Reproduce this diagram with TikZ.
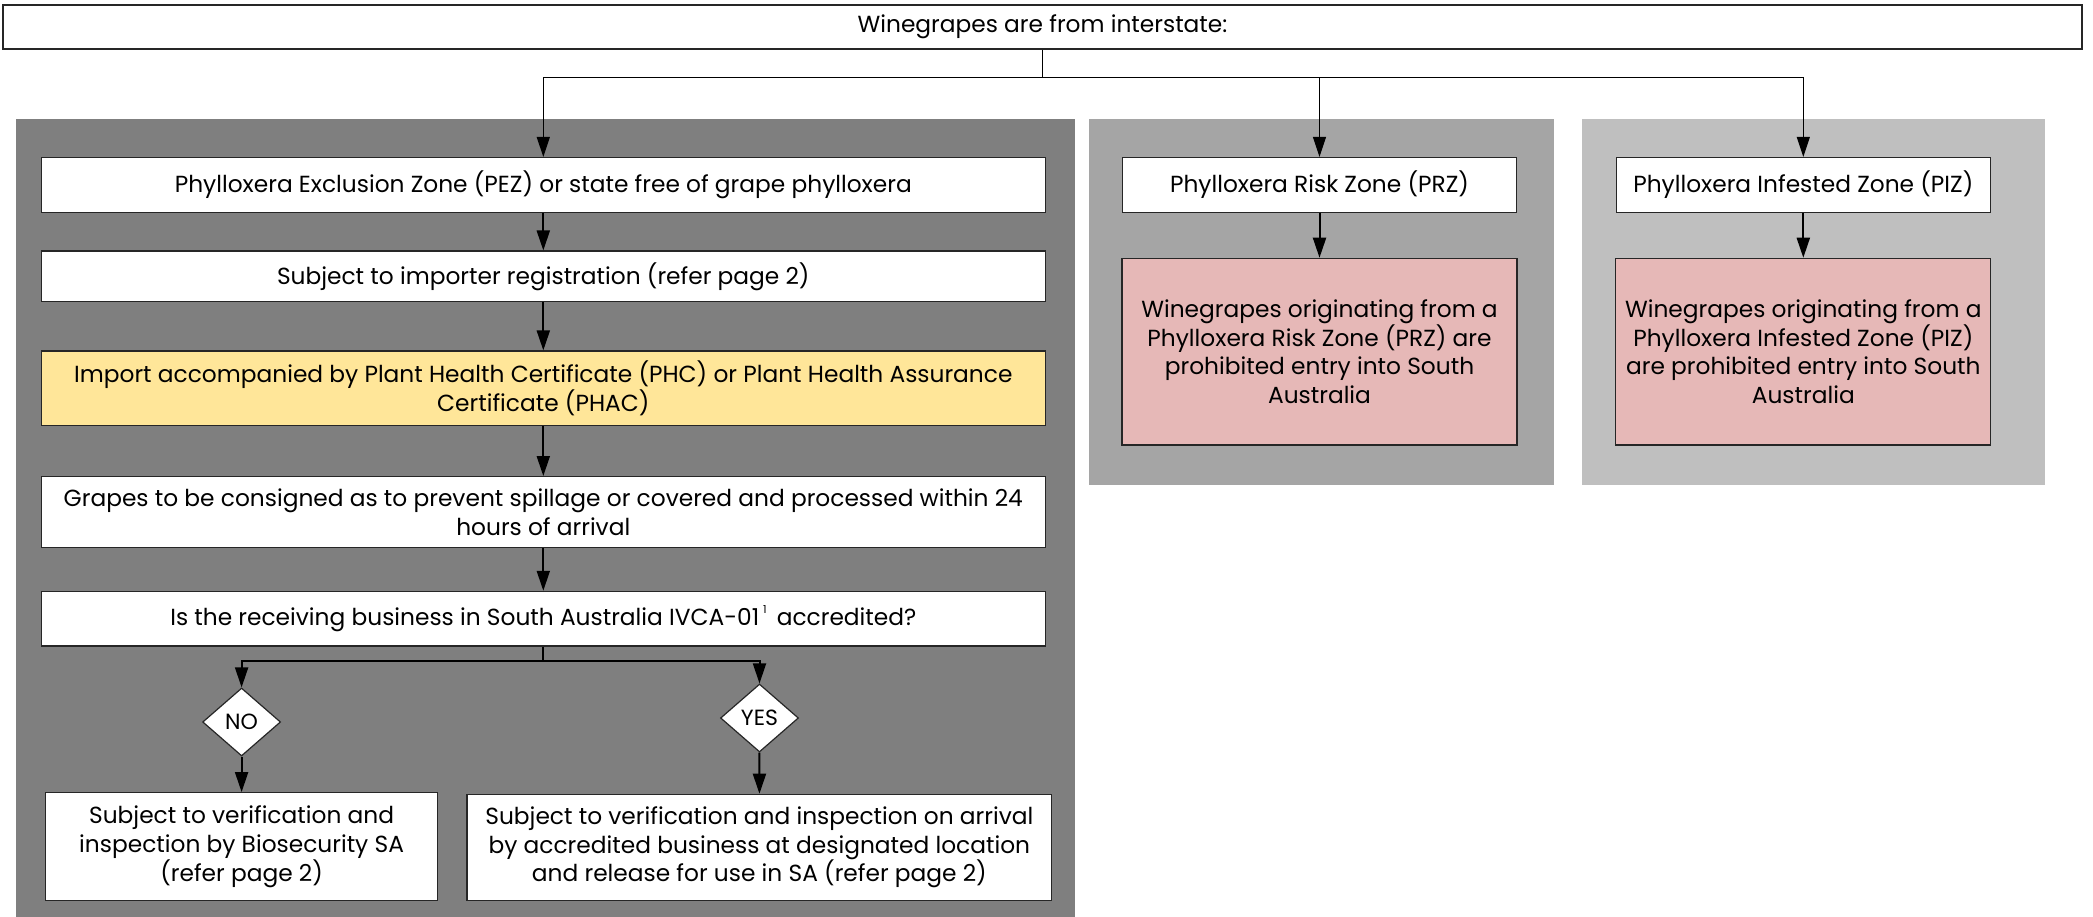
\documentclass[tikz,border=0pt]{standalone}
\usepackage{fontspec}
\setmainfont{Poppins}
\usetikzlibrary{shapes.geometric,arrows.meta}
\definecolor{paneldark}{HTML}{7F7F7F}
\definecolor{panelmid}{HTML}{A5A5A5}
\definecolor{panellight}{HTML}{BFBFBF}
\definecolor{certyellow}{HTML}{FFE699}
\definecolor{prohibpink}{HTML}{E6B8B7}
\tikzset{
  box/.style={draw=black!85, line width=1.2pt, fill=white, align=center, inner sep=2pt,
    font=\fontsize{23.3}{28.7}\selectfont},
  dia/.style={draw=black!85, line width=1.2pt, fill=white, diamond, aspect=1.15,
    minimum width=78pt, minimum height=68pt, inner sep=0pt, font=\fontsize{22}{24}\selectfont},
  flow/.style={line width=2pt, -{Triangle[length=20pt,width=13pt]}},
  thinflow/.style={line width=1.2pt, -{Triangle[length=20pt,width=13pt]}},
}
\begin{document}
\begin{tikzpicture}[x=1pt,y=-1pt]
\useasboundingbox (0,0) rectangle (2093,917);
\fill[white] (0,0) rectangle (2093,917);
% panels
\fill[paneldark] (16,118.8) rectangle (1074.5,917);
\fill[panelmid] (1089,118.8) rectangle (1553.7,484.5);
\fill[panellight] (1581.7,118.8) rectangle (2044.9,484.5);
% nodes
\node[box, minimum width=2079pt, minimum height=44pt] (top) at (1042.5,27) {Winegrapes are from interstate:};
\node[box, minimum width=1003.7pt, minimum height=54.7pt] (pez) at (543.3,184.9) {Phylloxera Exclusion Zone (PEZ) or state free of grape phylloxera};
\node[box, minimum width=1003.7pt, minimum height=50.7pt] (imp) at (543.3,276.4) {Subject to importer registration (refer page 2)};
\node[box, fill=certyellow, minimum width=1003.7pt, minimum height=74.8pt] (phac) at (543.3,388.4) {Import accompanied by Plant Health Certificate (PHC) or Plant Health Assurance\\Certificate (PHAC)};
\node[box, minimum width=1003.7pt, minimum height=70.8pt] (grapes) at (543.3,512) {Grapes to be consigned as to prevent spillage or covered and processed within 24\\hours of arrival};
\node[box, minimum width=1003.7pt, minimum height=54.7pt] (ivca) at (543.3,618.7) {Is the receiving business in South Australia IVCA-01\,\raisebox{0.5em}{\fontsize{11}{11}\selectfont 1}\, accredited?};
\node[dia] (no) at (241.6,722) {NO};
\node[dia] (yes) at (759.5,718) {YES};
\node[box, minimum width=392.4pt, minimum height=108pt] (nobox) at (241.6,846.7) {Subject to verification and\\inspection by Biosecurity SA\\(refer page 2)};
\node[box, minimum width=584.8pt, minimum height=106.4pt] (yesbox) at (759.4,847.5) {Subject to verification and inspection on arrival\\by accredited business at designated location\\and release for use in SA (refer page 2)};
\node[box, minimum width=393.7pt, minimum height=54.7pt] (prz) at (1319.5,184.9) {Phylloxera Risk Zone (PRZ)};
\node[box, fill=prohibpink, minimum width=395pt, minimum height=186.7pt] (przp) at (1319.5,351.7) {Winegrapes originating from a\\Phylloxera Risk Zone (PRZ) are\\prohibited entry into South\\Australia};
\node[box, minimum width=373.8pt, minimum height=54.7pt] (piz) at (1803.3,184.9) {Phylloxera Infested Zone (PIZ)};
\node[box, fill=prohibpink, minimum width=375pt, minimum height=186.7pt] (pizp) at (1803.3,351.7) {Winegrapes originating from a\\Phylloxera Infested Zone (PIZ)\\are prohibited entry into South\\Australia};
% connectors
\coordinate (tj) at (1042.5,77.4);
\draw[line width=1.2pt] (top.south) -- (tj);
\draw[thinflow] (tj) -| (pez.north);
\draw[thinflow] (tj) -| (prz.north);
\draw[thinflow] (tj) -| (piz.north);
\draw[flow] (pez) -- (imp);
\draw[flow] (imp) -- (phac);
\draw[flow] (phac) -- (grapes);
\draw[flow] (grapes) -- (ivca);
\coordinate (br) at (543.3,661);
\draw[line width=2pt] (ivca.south) -- (br);
\draw[flow] (br) -| (no.north);
\draw[flow] (br) -| (yes.north);
\draw[flow] (no) -- (nobox);
\draw[flow] (yes) -- (yesbox);
\draw[flow] (prz) -- (przp);
\draw[flow] (piz) -- (pizp);
\end{tikzpicture}
\end{document}
